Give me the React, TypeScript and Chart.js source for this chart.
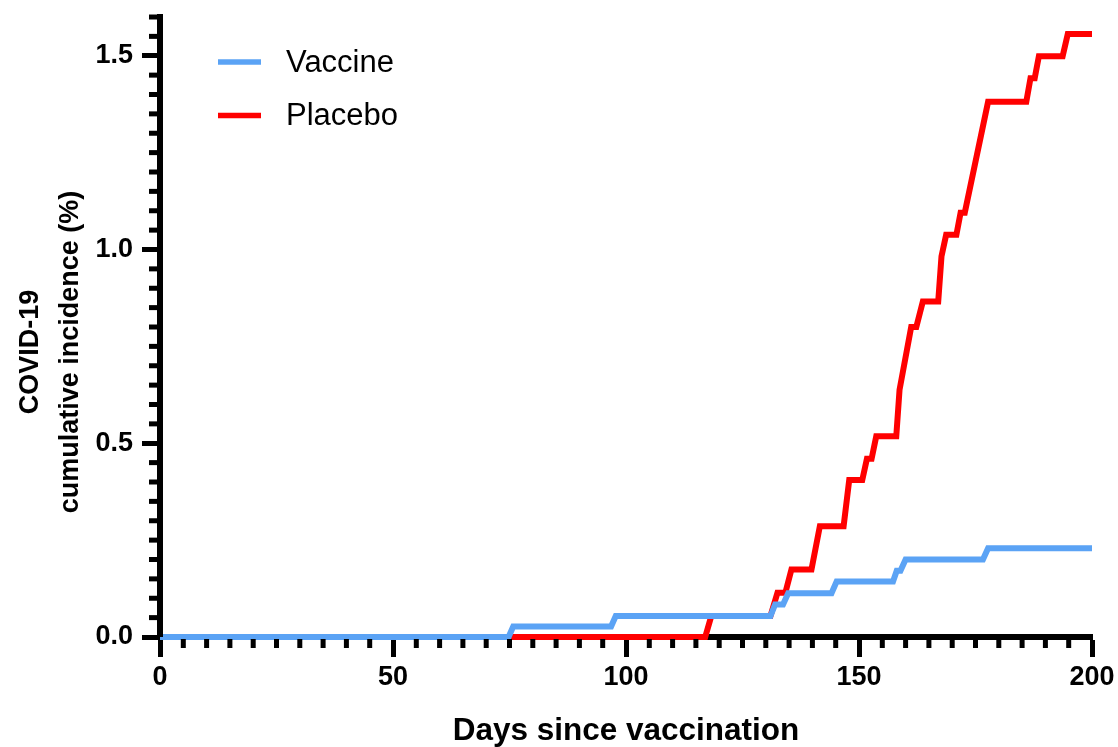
import React, { useEffect, useRef } from "react";
import { Chart, registerables } from "chart.js";

Chart.register(...registerables);

const seriesNames = ["Vaccine", "Placebo"];
const seriesColors = ["#5BA3F5", "#FF0000"];

const vaccineDays = [0, 74.8, 75.8, 96.8, 97.8, 131.0, 132.0, 133.7, 134.8, 144.1, 145.2, 157.3, 158.1, 158.9, 160.0, 176.6, 177.7, 200];
const vaccineIncidence = [0, 0, 0.027, 0.027, 0.054, 0.054, 0.084, 0.084, 0.113, 0.113, 0.143, 0.143, 0.171, 0.171, 0.2, 0.2, 0.229, 0.229];

const placeboDays = [0, 117.0, 118.3, 131.0, 132.5, 134.2, 135.5, 139.8, 141.6, 146.7, 147.9, 150.7, 151.7, 152.7, 153.7, 158.0, 158.7, 161.2, 162.3, 163.7, 167.0, 167.7, 168.7, 170.9, 171.8, 172.7, 177.7, 185.9, 186.8, 187.7, 188.6, 193.7, 194.8, 200];
const placeboIncidence = [0, 0, 0.054, 0.054, 0.114, 0.114, 0.174, 0.174, 0.286, 0.286, 0.405, 0.405, 0.46, 0.46, 0.518, 0.518, 0.638, 0.8, 0.8, 0.866, 0.866, 0.982, 1.038, 1.038, 1.095, 1.095, 1.381, 1.381, 1.442, 1.442, 1.499, 1.499, 1.556, 1.556];

const xMin = 0;
const xMax = 200;
const xMajorStep = 50;
const xMinorStep = 5;
const yMin = 0;
const yMax = 1.6;
const yMajorStep = 0.5;
const yMinorStep = 0.05;

const xTitle = "Days since vaccination";
const yTitle = ["COVID-19", "cumulative incidence (%)"];

const FONT = "'Liberation Sans', Arial, Helvetica, sans-serif";

const zip = (xs: number[], ys: number[]) => xs.map((x, i) => ({ x, y: ys[i] }));

const minorTicksPlugin = {
  id: "minorTicks",
  afterDraw(chart: any) {
    const { ctx } = chart;
    const xs = chart.scales.x;
    const ys = chart.scales.y;
    ctx.save();
    ctx.strokeStyle = "#000";
    ctx.lineWidth = 5;
    ctx.lineCap = "butt";
    const nx = Math.round((xMax - xMin) / xMinorStep);
    for (let i = 1; i < nx; i++) {
      const v = xMin + i * xMinorStep;
      if (Math.abs(v / xMajorStep - Math.round(v / xMajorStep)) < 1e-6) continue;
      const px = xs.getPixelForValue(v);
      ctx.beginPath();
      ctx.moveTo(px, xs.top + 2);
      ctx.lineTo(px, xs.top + 11);
      ctx.stroke();
    }
    const ny = Math.round((yMax - yMin) / yMinorStep);
    for (let i = 1; i <= ny; i++) {
      const v = yMin + i * yMinorStep;
      if (Math.abs(v / yMajorStep - Math.round(v / yMajorStep)) < 1e-6) continue;
      const py = ys.getPixelForValue(v);
      ctx.beginPath();
      ctx.moveTo(ys.right - 2, py);
      ctx.lineTo(ys.right - 11, py);
      ctx.stroke();
    }
    ctx.lineWidth = 6;
    ctx.beginPath();
    ctx.moveTo(ys.right, ys.getPixelForValue(yMax) - 2.5);
    ctx.lineTo(ys.right, ys.bottom);
    ctx.stroke();
    ctx.restore();
  },
};

const yTitlePlugin = {
  id: "yTitle",
  afterDraw(chart: any) {
    const { ctx } = chart;
    ctx.save();
    ctx.fillStyle = "#000";
    ctx.font = `bold 27px ${FONT}`;
    ctx.textAlign = "center";
    ctx.textBaseline = "middle";
    const cy = 352;
    const xsPos = [30.5, 71];
    yTitle.forEach((line, i) => {
      ctx.save();
      ctx.translate(xsPos[i], cy);
      ctx.rotate(-Math.PI / 2);
      ctx.fillText(line, 0, 0);
      ctx.restore();
    });
    ctx.restore();
  },
};

const legendPlugin = {
  id: "insideLegend",
  afterDatasetsDraw(chart: any) {
    const { ctx } = chart;
    ctx.save();
    chart.data.datasets.forEach((ds: any, i: number) => {
      const y = 62 + i * 53.5;
      ctx.strokeStyle = ds.borderColor;
      ctx.lineWidth = 5.5;
      ctx.lineCap = "butt";
      ctx.beginPath();
      ctx.moveTo(218, y);
      ctx.lineTo(261, y);
      ctx.stroke();
      ctx.fillStyle = "#000";
      ctx.font = `31px ${FONT}`;
      ctx.textBaseline = "middle";
      ctx.textAlign = "left";
      ctx.fillText(ds.label, 286, y + 1);
    });
    ctx.restore();
  },
};

export default function App() {
  const ref = useRef<HTMLCanvasElement | null>(null);
  useEffect(() => {
    if (!ref.current) return;
    const chart = new Chart(ref.current, {
      type: "line",
      data: {
        datasets: [
          {
            label: seriesNames[0],
            data: zip(vaccineDays, vaccineIncidence),
            borderColor: seriesColors[0],
            backgroundColor: seriesColors[0],
            borderWidth: 6,
            pointRadius: 0,
            tension: 0,
            clip: false as any,
          },
          {
            label: seriesNames[1],
            data: zip(placeboDays, placeboIncidence),
            borderColor: seriesColors[1],
            backgroundColor: seriesColors[1],
            borderWidth: 6,
            pointRadius: 0,
            tension: 0,
            clip: false as any,
          },
        ],
      },
      options: {
        animation: false,
        responsive: true,
        maintainAspectRatio: false,
        layout: { padding: { top: 17, right: 26, left: 0, bottom: 0 } },
        plugins: {
          legend: { display: false },
          tooltip: { enabled: false },
        },
        scales: {
          x: {
            type: "linear",
            min: xMin,
            max: xMax,
            afterFit: (s: any) => {
              s.height = 110;
              s.paddingLeft = 0;
              s.paddingRight = 0;
            },
            ticks: {
              stepSize: xMajorStep,
              includeBounds: false,
              autoSkip: false,
              maxRotation: 0,
              padding: 4,
              color: "#000",
              font: { family: FONT, size: 27, weight: "bold" },
            },
            grid: {
              display: true,
              drawOnChartArea: false,
              drawTicks: true,
              tickLength: 20,
              tickWidth: 5,
              tickColor: "#000",
            },
            border: { display: true, width: 6, color: "#000" },
            title: {
              display: true,
              text: xTitle,
              color: "#000",
              font: { family: FONT, size: 31.5, weight: "bold", lineHeight: 1.0 },
              padding: { top: 0, bottom: 0 },
            },
          },
          y: {
            type: "linear",
            min: yMin,
            max: yMax,
            afterFit: (s: any) => {
              s.width = 160;
              s.paddingTop = 0;
              s.paddingBottom = 0;
            },
            ticks: {
              stepSize: yMajorStep,
              includeBounds: false,
              padding: 9,
              color: "#000",
              font: { family: FONT, size: 27, weight: "bold" },
              callback: (v: any) => Number(v).toFixed(1),
            },
            grid: {
              display: true,
              drawOnChartArea: false,
              drawTicks: true,
              tickLength: 18,
              tickWidth: 5,
              tickColor: "#000",
            },
            border: { display: true, width: 6, color: "#000" },
            title: { display: false },
          },
        },
      },
      plugins: [minorTicksPlugin, legendPlugin, yTitlePlugin],
    });
    return () => chart.destroy();
  }, []);

  return (
    <div style={{ position: "absolute", left: 0, top: 0, width: 1118, height: 747, background: "#fff" }}>
      <canvas ref={ref} />
    </div>
  );
}
